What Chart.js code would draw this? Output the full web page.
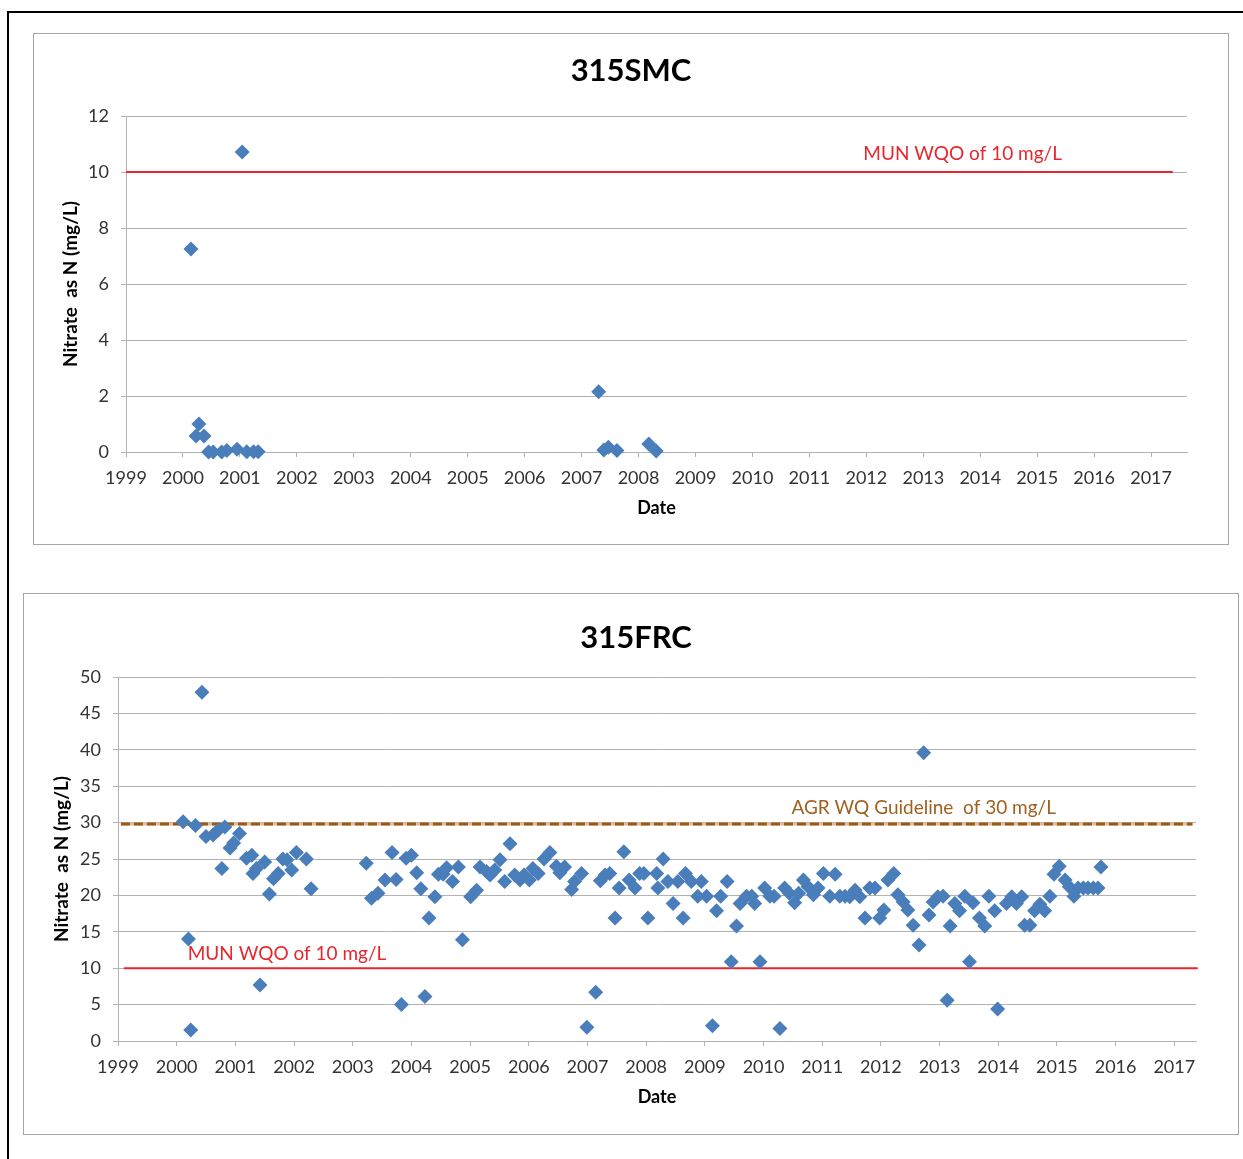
<!DOCTYPE html>
<html><head><meta charset="utf-8">
<script src="https://cdn.jsdelivr.net/npm/chart.js@4/dist/chart.umd.min.js"></script>
<style>
html,body{margin:0;padding:0;background:#fff;}
body{width:1243px;height:1159px;position:relative;overflow:hidden;}
#frame{position:absolute;left:7px;top:11px;width:1300px;height:1200px;border-top:2px solid #000;border-left:2px solid #000;}
.box{position:absolute;border:1px solid #a6a6a6;background:#fff;}
#box1{left:33px;top:33px;width:1194px;height:510px;}
#box2{left:23px;top:593px;width:1214px;height:540px;}
canvas{display:block;}
</style></head><body>
<div id="frame"></div>
<div class="box" id="box1"><canvas id="c1" width="1194" height="510"></canvas></div>
<div class="box" id="box2"><canvas id="c2" width="1214" height="540"></canvas></div>
<script>
// ---- data (decimal years) ----
const yearTicks = [1999,2000,2001,2002,2003,2004,2005,2006,2007,2008,2009,2010,2011,2012,2013,2014,2015,2016,2017];

const smcDates   = [2000.14,2000.23,2000.28,2000.37,2000.45,2000.53,2000.68,2000.77,2000.95,2001.04,2001.12,2001.24,2001.32,2007.30,2007.39,2007.47,2007.62,2008.18,2008.31];
const smcNitrate = [7.25,0.57,1.0,0.57,0.0,0.0,0.0,0.05,0.1,10.71,0.01,0.01,0.01,2.15,0.07,0.17,0.05,0.29,0.04];

const frcDates = [
2000.11,2000.20,2000.24,2000.32,2000.43,2000.50,2000.62,2000.71,2000.77,2000.82,2000.91,2000.97,
2001.07,2001.19,2001.28,2001.30,2001.36,2001.42,2001.50,2001.58,2001.65,2001.73,2001.81,2001.88,2001.96,
2002.04,2002.21,2002.29,
2003.23,2003.32,2003.43,2003.55,2003.67,2003.74,2003.83,2003.91,
2004.00,2004.09,2004.16,2004.23,2004.30,2004.40,2004.46,2004.54,2004.60,2004.70,2004.80,2004.87,
2005.01,2005.11,2005.17,2005.28,2005.34,2005.42,2005.51,2005.59,2005.68,2005.76,2005.85,2005.92,
2006.01,2006.07,2006.16,2006.26,2006.36,2006.47,2006.53,2006.61,2006.73,2006.78,2006.90,2006.99,
2007.14,2007.22,2007.30,2007.38,2007.47,2007.54,2007.62,2007.71,2007.81,2007.89,2007.96,
2008.03,2008.18,2008.20,2008.29,2008.37,2008.46,2008.54,2008.63,2008.67,2008.77,2008.88,2008.94,
2009.03,2009.13,2009.20,2009.27,2009.38,2009.45,2009.54,2009.60,2009.71,2009.80,2009.85,2009.94,
2010.02,2010.11,2010.18,2010.28,2010.36,2010.44,2010.53,2010.60,2010.68,2010.76,2010.85,2010.93,
2011.02,2011.13,2011.22,2011.30,2011.39,2011.47,2011.56,2011.64,2011.73,2011.81,2011.90,2011.98,
2012.05,2012.12,2012.22,2012.29,2012.38,2012.46,2012.55,2012.65,2012.73,2012.82,2012.89,2012.97,
2013.06,2013.13,2013.18,2013.26,2013.34,2013.43,2013.51,2013.57,2013.68,2013.77,2013.84,2013.94,2013.99,
2014.14,2014.23,2014.31,2014.40,2014.45,2014.54,2014.62,2014.71,2014.79,2014.88,2014.95,
2015.04,2015.14,2015.21,2015.29,2015.36,2015.45,2015.53,2015.62,2015.70,2015.75];
const frcNitrate = [
30.1,14.0,1.5,29.6,47.9,28.1,28.3,29.0,23.7,29.4,26.5,27.2,
28.5,25.1,25.5,23.0,23.7,7.7,24.6,20.2,22.3,23.0,25.0,24.9,23.5,
25.9,25.0,20.9,
24.4,19.6,20.3,22.1,25.9,22.2,5.0,25.1,
25.5,23.1,20.9,6.1,16.9,19.8,22.9,22.9,23.8,21.9,23.9,13.9,
19.8,20.7,23.9,23.3,22.8,23.5,24.9,21.9,27.1,22.8,22.1,22.8,
22.1,23.7,23.0,25.0,25.9,24.0,23.1,23.9,20.8,21.9,23.0,1.9,
6.7,22.0,22.8,23.0,16.9,21.0,26.0,22.1,21.0,23.0,23.0,
16.9,23.0,21.0,25.0,21.9,18.9,21.9,16.9,23.0,21.9,19.9,21.9,
19.9,2.1,17.9,19.9,21.9,10.9,15.8,18.9,19.9,19.9,18.9,10.9,
21.0,19.9,19.9,1.7,21.0,20.3,19.0,20.3,22.1,21.2,20.1,21.0,
23.0,19.9,22.9,19.9,19.9,19.8,20.7,19.8,16.9,21.0,21.0,16.9,
18.0,22.1,23.0,20.1,19.1,18.0,15.9,13.2,39.6,17.3,19.1,19.8,
19.9,5.6,15.8,18.9,17.9,19.9,10.9,19.0,16.9,15.8,19.9,17.9,4.4,
18.9,19.8,18.9,19.8,15.9,15.9,17.9,18.8,17.9,19.9,22.9,
24.0,22.1,21.2,19.9,21.0,21.0,21.0,21.0,21.0,23.9];

// guideline lines: [start, end] years and level values
const smcMunX = [1999, 2017.38];
const smcMunY = [10, 10];
const frcMunX = [1999.1, 2017.4];
const frcMunY = [10, 10];
const frcAgrX = [1999.05, 2017.31];
const frcAgrY = [29.8, 29.8];

// ---- rendering ----
const FONT = 'Lato, "Open Sans", sans-serif';
const BLUE = '#4a7ebb';
const RED = '#e8262c';
const BROWN = '#9a581a';
const GRID = '#b3b3b3';

const pts = (xs, ys) => xs.map((x, i) => ({x, y: ys[i]}));

const refLabels = {
  id: 'refLabels',
  afterDatasetsDraw(chart, args, opts) {
    const {ctx, scales} = chart;
    ctx.save();
    (opts.items || []).forEach(it => {
      ctx.font = it.font;
      ctx.fillStyle = it.color;
      ctx.textAlign = 'center';
      ctx.textBaseline = 'middle';
      ctx.fillText(it.text, scales.x.getPixelForValue(it.x), scales.y.getPixelForValue(it.y));
    });
    ctx.restore();
  }
};

function makeChart(id, o) {
  return new Chart(document.getElementById(id), {
    type: 'scatter',
    data: { datasets: o.datasets },
    plugins: [refLabels],
    options: {
      responsive: false,
      animation: false,
      devicePixelRatio: 1,
      layout: { padding: { left: o.padLeft, right: 0, top: 0, bottom: 0 } },
      plugins: {
        legend: { display: false },
        tooltip: { enabled: false },
        title: {
          display: true, text: o.title, color: '#000',
          font: { family: FONT, size: 31, weight: 'bold', lineHeight: 1.2 },
          padding: { top: o.titlePadTop, bottom: o.titlePadBottom }
        },
        refLabels: { items: o.labels }
      },
      scales: {
        x: {
          type: 'linear', min: 1999, max: o.xMax,
          afterBuildTicks: s => { s.ticks = yearTicks.map(v => ({ value: v })); },
          afterFit: s => { s.height = o.xAxisHeight; },
          grid: { drawOnChartArea: false, drawTicks: true, tickLength: 5, color: GRID },
          border: { display: true, color: GRID, width: 1 },
          ticks: { color: '#333', font: { family: FONT, size: 18 }, padding: 10, maxRotation: 0, autoSkip: false,
                   callback: v => String(v) },
          title: { display: true, text: 'Date', color: '#000',
                   font: { family: FONT, size: 18, weight: 'bold', lineHeight: 1.2 },
                   padding: { top: 0, bottom: o.xTitlePad } }
        },
        y: {
          min: 0, max: o.yMax,
          afterFit: s => { s.width = o.yAxisWidth; },
          grid: { color: GRID, tickLength: 5, drawTicks: true },
          border: { display: true, color: GRID, width: 1 },
          ticks: { stepSize: o.yStep, color: '#333', font: { family: FONT, size: 18 }, padding: 12 },
          title: { display: true, text: 'Nitrate  as N (mg/L)', color: '#000',
                   font: { family: FONT, size: 19, weight: 'bold', lineHeight: 1.2 },
                   padding: { top: o.yTitlePad, bottom: 0 } }
        },
        yRightSpace: {
          type: 'linear', position: 'right', display: true,
          afterFit: s => { s.width = o.rightSpace; },
          grid: { display: false }, border: { display: false },
          ticks: { display: false }
        }
      }
    }
  });
}

const pointDs = (xs, ys) => ({
  data: pts(xs, ys), showLine: false, pointStyle: 'rectRot', pointRadius: 7.5,
  pointBackgroundColor: BLUE, pointBorderColor: BLUE, pointBorderWidth: 0, clip: false
});
const lineDs = (xs, ys, color, width, dash) => ({
  data: pts(xs, ys), showLine: true, pointRadius: 0, borderColor: color, borderWidth: width,
  borderDash: dash || [], fill: false, clip: false
});

makeChart('c1', {
  title: '315SMC', xMax: 2017.63, yMax: 12, yStep: 2,
  padLeft: 0, rightSpace: 41, yAxisWidth: 92, xAxisHeight: 92,
  titlePadTop: 18.4, titlePadBottom: 26.4, xTitlePad: 25.2, yTitlePad: 25.6,
  datasets: [ pointDs(smcDates, smcNitrate), lineDs(smcMunX, smcMunY, RED, 2) ],
  labels: [ { text: 'MUN WQO of 10 mg/L', x: 2013.69, y: 10.64, color: RED, font: '19px ' + FONT } ]
});

makeChart('c2', {
  title: '315FRC', xMax: 2017.37, yMax: 50, yStep: 5,
  padLeft: 10, rightSpace: 42, yAxisWidth: 84, xAxisHeight: 93,
  titlePadTop: 25.4, titlePadBottom: 20.4, xTitlePad: 26.2, yTitlePad: 16.6,
  datasets: [
    pointDs(frcDates, frcNitrate),
    lineDs(frcMunX, frcMunY, RED, 2),
    lineDs(frcAgrX, frcAgrY, BROWN, 3, [9, 4]),
    lineDs(frcAgrX, frcAgrY, '#e2bf98', 3)
  ],
  labels: [
    { text: 'MUN WQO of 10 mg/L', x: 2001.88, y: 11.95, color: RED, font: '19px ' + FONT },
    { text: 'AGR WQ Guideline  of 30 mg/L', x: 2012.73, y: 32.0, color: '#a0601e', font: '19px ' + FONT }
  ]
});
</script>
</body></html>
